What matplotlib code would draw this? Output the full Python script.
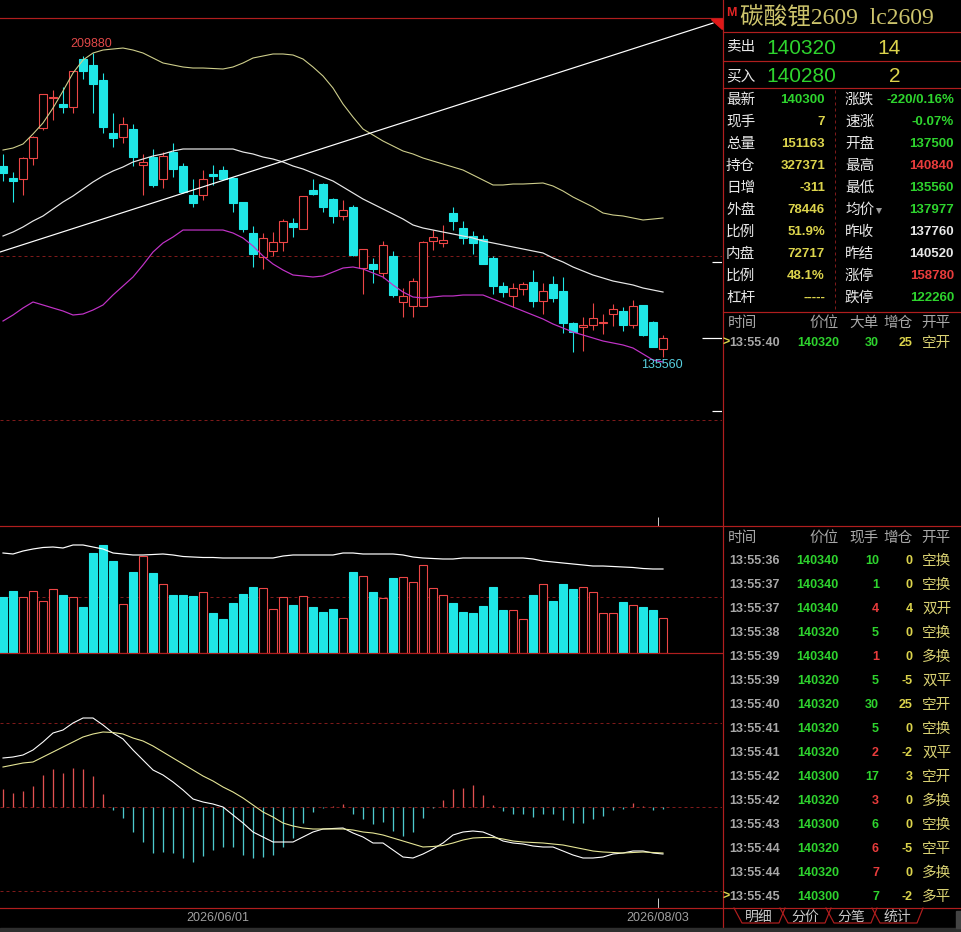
import numpy as np
import matplotlib
matplotlib.use('Agg')
import matplotlib.pyplot as plt
from matplotlib.patches import Polygon, Rectangle

plt.rcParams['font.family'] = ['Liberation Sans', 'Noto Sans CJK SC', 'DejaVu Sans']

# ---------------- data ----------------
opens = [182250, 179320, 179070, 184210, 191540, 198880, 197410, 196680, 208410, 206950,
         203280, 190320, 189340, 191300, 182500, 184450, 179070, 185670, 182250, 175160,
         175160, 180300, 181270, 179320, 173450, 165870, 160000, 161470, 163670, 168320,
         166850, 176380, 177850, 174180, 170030, 172230, 157310, 158290, 156090, 160250,
         149000, 148020, 148020, 163910, 163430, 170760, 167090, 165140, 164400, 159760,
         152910, 150470, 152180, 153890, 149240, 153400, 151690, 143860, 142890, 143380,
         143860, 146070, 146800, 143380, 148270, 144110, 137500]
closes = [180540, 178580, 184210, 189340, 199860, 199120, 196680, 205480, 205480, 202300,
          191790, 189100, 192520, 184450, 183230, 177610, 184700, 181520, 175890, 173200,
          179070, 179810, 179070, 173200, 166850, 160740, 164650, 163670, 168800, 167340,
          174920, 175410, 172230, 170030, 171490, 160490, 161960, 157070, 162940, 150710,
          150470, 154130, 163670, 164890, 164160, 168800, 164650, 163430, 158290, 152910,
          151440, 152420, 153400, 149240, 151690, 149980, 143860, 141660, 143380, 145090,
          144110, 147290, 143380, 148020, 140930, 138000, 140300]
highs = [185190, 180780, 184450, 189590, 199860, 200830, 201570, 205480, 209150, 209880,
         204990, 195210, 194230, 192520, 185190, 186410, 185670, 187880, 182990, 179070,
         181270, 182500, 182250, 179560, 173450, 167580, 165870, 166110, 169290, 169540,
         174920, 179070, 178100, 174430, 173940, 172720, 161960, 159760, 163910, 161470,
         152420, 154870, 163910, 166600, 167830, 172230, 168800, 166360, 165380, 160250,
         153890, 153650, 153890, 156820, 153650, 155360, 155110, 144110, 145330, 148760,
         146070, 148510, 147780, 149490, 148270, 144350, 140840]
lows = [178580, 173450, 175160, 182500, 191050, 193500, 195210, 195210, 203520, 195210,
        190320, 186900, 187880, 182250, 175160, 177120, 176870, 179560, 175650, 172230,
        173940, 177610, 178830, 171000, 166110, 157560, 157070, 160250, 161470, 164890,
        166850, 175160, 171000, 168320, 169050, 160250, 150960, 153650, 154870, 150220,
        145330, 145330, 148020, 161710, 162450, 166600, 163180, 160740, 158290, 150960,
        150220, 147780, 150710, 147780, 146070, 149000, 141420, 136770, 137020, 142150,
        141180, 143130, 141910, 142640, 140690, 138000, 135560]

boll_up = [186160, 186650, 187630, 190080, 192770, 196430, 200590, 204990, 208170, 209880,
           210610, 210860, 211100, 210610, 209880, 208660, 207440, 206950, 206460, 206210,
           206210, 206090, 205970, 206460, 207440, 208660, 209150, 209640, 209640, 209390,
           208410, 206460, 204260, 201320, 197410, 194230, 191300, 189830, 188360, 187140,
           185920, 185190, 184210, 183470, 182740, 182010, 181270, 180050, 178830, 177610,
           177610, 177850, 177850, 177970, 178100, 177360, 176140, 174670, 173450, 172230,
           170760, 170270, 170030, 169540, 169050, 169290, 169540]
boll_mid = [165140, 166110, 167340, 168800, 170030, 171740, 173450, 174920, 176630, 178340,
            179810, 181030, 182010, 183230, 183960, 184700, 185190, 185920, 186410, 186410,
            186410, 186410, 186410, 186410, 185670, 185190, 184450, 183960, 183230, 182250,
            181520, 180540, 179560, 178580, 177120, 175650, 174180, 172960, 171740, 170520,
            169290, 167830, 167090, 166600, 166110, 165630, 165140, 164650, 163910, 163430,
            162940, 162450, 161960, 161470, 160980, 159760, 158780, 157560, 156580, 155600,
            154870, 154130, 153650, 153160, 152420, 151930, 151440]
boll_low = [144350, 145820, 147530, 149000, 148270, 147530, 146800, 145820, 146070, 147040,
            148270, 150710, 152910, 155110, 158050, 161220, 163430, 164890, 166600, 166600,
            166600, 166600, 166600, 165870, 164650, 162690, 160250, 158290, 156820, 155600,
            155360, 155110, 155360, 156330, 157310, 157560, 157070, 156090, 155110, 153160,
            151440, 150220, 149980, 150220, 150470, 150470, 150710, 150710, 150710, 149730,
            148760, 147780, 146800, 145820, 144840, 143620, 142640, 141660, 140930, 140200,
            139460, 138980, 138490, 137750, 136290, 134820, 134330]

volumes = [241900, 267800, 241900, 267800, 224600, 276500, 250600, 241900, 198700, 432000,
           466600, 397400, 211700, 349900, 419000, 345600, 298100, 250600, 250600, 246200,
           263500, 172800, 146900, 216000, 254900, 285100, 280800, 190100, 241900, 207400,
           246200, 198700, 177100, 190100, 151200, 349900, 332600, 263500, 237600, 324000,
           328300, 306700, 380200, 280800, 250600, 216000, 177100, 172800, 203000, 285100,
           185800, 185800, 146900, 250600, 298100, 224600, 298100, 276500, 285100, 263500,
           172800, 172800, 220300, 207400, 198700, 185800, 151163]
vol_line = [432000, 427700, 440600, 449300, 455800, 457900, 453600, 466600, 466600, 457900,
            449300, 432000, 427700, 423400, 423400, 425500, 427700, 423400, 416900, 414700,
            412600, 412600, 410400, 410400, 410400, 410400, 410400, 410400, 419000, 423400,
            423400, 423400, 423400, 423400, 432000, 432000, 427700, 427700, 427700, 427700,
            423400, 414700, 410400, 408200, 406100, 406100, 410400, 410400, 410400, 410400,
            410400, 410400, 410400, 406100, 397400, 393100, 388800, 384500, 380200, 375800,
            375800, 373700, 371500, 369400, 365000, 362900, 362900]

dif = [4900, 5000, 5200, 5700, 6500, 7400, 7700, 8400, 8900, 8900,
       8200, 7400, 6800, 5700, 4700, 3700, 3200, 2500, 1700, 800,
       500, 300, 0, -800, -1600, -2500, -3000, -3500, -3500, -3500,
       -3000, -2500, -2200, -2150, -2100, -2600, -3000, -3600, -3600, -4300,
       -5000, -5100, -4700, -4200, -3600, -2800, -2500, -2400, -2500, -2900,
       -3400, -3600, -3700, -3900, -4000, -4000, -4400, -4800, -5100, -5100,
       -5000, -4700, -4600, -4400, -4400, -4600, -4700]
dea = [4000, 4200, 4400, 4500, 5000, 5500, 6000, 6500, 7000, 7300,
       7500, 7450, 7300, 6900, 6600, 6100, 5500, 4900, 4300, 3700,
       3100, 2600, 2000, 1500, 900, 200, -500, -1000, -1600, -1900,
       -2100, -2200, -2200, -2200, -2200, -2300, -2500, -2600, -2800, -3100,
       -3400, -3700, -4000, -3950, -3850, -3600, -3300, -3100, -3050, -3050,
       -3200, -3400, -3500, -3550, -3600, -3700, -3800, -4000, -4200, -4400,
       -4500, -4550, -4600, -4550, -4500, -4550, -4600]
macd_hist = [1800, 1400, 1600, 2100, 3200, 3800, 3400, 3900, 3800, 3100,
             1300, -300, -1100, -2500, -3500, -4600, -4500, -4600, -5100, -5500,
             -4900, -4300, -4000, -4000, -4800, -5100, -5000, -4800, -4000, -3100,
             -1600, -500, -100, 100, 300, -700, -1200, -1700, -1500, -2400,
             -2900, -2500, -1100, -100, 700, 1800, 1900, 2200, 1200, 200,
             -400, -700, -700, -1000, -700, -700, -1300, -1600, -1600, -1200,
             -900, -300, -200, 400, 100, -300, -200]

date_ticks = [21.5, 65.5]
date_labels = ['2026/06/01', '2026/08/03']
trend_x = [-0.3, 71.0]
trend_y = [161220, 217200]
main_grid = [160250, 120150]
vol_grid = [241920]
macd_grid = [8400, -8400]
last_price = 140300
limit_up = 158780
limit_down = 122260

title = '碳酸锂2609  lc2609'
book_labels = ['卖出', '买入']
book_prices = ['140320', '140280']
book_sizes = ['14', '2']
left_labels = ['最新', '现手', '总量', '持仓', '日增', '外盘', '比例', '内盘', '比例', '杠杆']
left_values = ['140300', '7', '151163', '327371', '-311', '78446', '51.9%', '72717', '48.1%', '-----']
left_kinds = ['g', 'y', 'y', 'y', 'y', 'y', 'y', 'y', 'y', 'y']
right_labels = ['涨跌', '速涨', '开盘', '最高', '最低', '均价', '昨收', '昨结', '涨停', '跌停']
right_values = ['-220/0.16%', '-0.07%', '137500', '140840', '135560', '137977', '137760', '140520', '158780', '122260']
right_kinds = ['g', 'g', 'g', 'r', 'g', 'g', 'w', 'w', 'r', 'g']
big_header = ['时间', '价位', '大单', '增仓', '开平']
big_row = ['13:55:40', '140320', '30', '25', '空开']
tick_header = ['时间', '价位', '现手', '增仓', '开平']
tick_times = ['13:55:36', '13:55:37', '13:55:37', '13:55:38', '13:55:39', '13:55:39', '13:55:40', '13:55:41',
              '13:55:41', '13:55:42', '13:55:42', '13:55:43', '13:55:44', '13:55:44', '13:55:45']
tick_prices = ['140340', '140340', '140340', '140320', '140340', '140320', '140320', '140320',
               '140320', '140300', '140320', '140300', '140320', '140320', '140300']
tick_sizes = ['10', '1', '4', '5', '1', '5', '30', '5', '2', '17', '3', '6', '6', '7', '7']
tick_size_kinds = ['g', 'g', 'r', 'g', 'r', 'g', 'g', 'g', 'r', 'g', 'r', 'g', 'r', 'r', 'g']
tick_oi = ['0', '0', '4', '0', '0', '-5', '25', '0', '-2', '3', '0', '0', '-5', '0', '-2']
tick_types = ['空换', '空换', '双开', '空换', '多换', '双平', '空开', '空换', '双平', '空开', '多换', '空换', '空平', '多换', '多平']
tabs = ['明细', '分价', '分笔', '统计']

# ---------------- style ----------------
W, H = 962, 932
LINE = '#b01e1e'
DASH = '#7e1a1a'
CYAN = '#1fe6e6'
UP = '#ec4646'
UPPER = '#cfcf8c'
MID = '#e8e8e8'
LOWER = '#c233c8'
HIST_UP = '#e05050'
HIST_DN = '#4cc8cc'
DEA_C = '#e6e696'
GREEN = '#2ed42e'
YELLOW = '#dcd44c'
REDT = '#e83c3c'
WHITET = '#e8e8e8'
GRAYT = '#a8a8a8'
KHAKI = '#d8d072'
kind_col = {'g': GREEN, 'y': YELLOW, 'r': REDT, 'w': WHITET}
PX = 0.72  # one pixel in points

fig = plt.figure(figsize=(W / 100, H / 100), dpi=100, facecolor='black')


def rect(x0, y0, x1, y1):
    return [x0 / W, 1 - y1 / H, (x1 - x0) / W, (y1 - y0) / H]


ax_k = fig.add_axes(rect(0, 18, 722, 526))
ax_v = fig.add_axes(rect(0, 526, 722, 653))
ax_m = fig.add_axes(rect(0, 653, 722, 908))
for a in (ax_k, ax_v, ax_m):
    a.set_facecolor('black')
    a.set_xlim(-0.3, 71.9)
    for s in a.spines.values():
        s.set_visible(False)
    a.set_xticks([])
    a.set_yticks([])

ax_k.set_ylim(94230, 218440)
ax_v.set_ylim(0, 548640)
ax_m.set_ylim(-10100, 15400)

o = np.array(opens, float)
c = np.array(closes, float)
h = np.array(highs, float)
l = np.array(lows, float)
idx = np.arange(len(o))
up = c >= o
cols = np.where(up, UP, CYAN)

# candles
ax_k.vlines(idx, l, h, colors=cols, lw=PX * 1.1, zorder=2)
bb = np.minimum(o, c)
bh = np.abs(c - o)
ax_k.bar(idx[up], bh[up], bottom=bb[up], width=0.72, facecolor='black', edgecolor=UP,
         lw=PX * 1.1, zorder=3)
ax_k.bar(idx[~up], bh[~up], bottom=bb[~up], width=0.72, facecolor=CYAN, edgecolor=CYAN,
         lw=PX * 1.1, zorder=3)

ax_k.plot(idx, boll_up, color=UPPER, lw=PX * 1.1, zorder=4)
ax_k.plot(idx, boll_mid, color=MID, lw=PX * 1.2, zorder=4)
ax_k.plot(idx, boll_low, color=LOWER, lw=PX * 1.2, zorder=4)
ax_k.plot(trend_x, trend_y, color='white', lw=PX * 1.2, zorder=4)
for g in main_grid:
    ax_k.axhline(g, color=DASH, lw=PX, ls=(0, (3, 3)), zorder=1)

# right-edge price marks
ax_k.hlines([limit_up, limit_down], 70.9, 71.9, colors='white', lw=PX * 1.2, zorder=5)
ax_k.hlines([last_price], 69.95, 71.9, colors='white', lw=PX * 1.2, zorder=5)

imax = int(np.argmax(h))
imin = int(np.argmin(l))
ax_k.annotate(f'{int(h[imax])}', (imax, h[imax]), xytext=(-1, 9 * PX), textcoords='offset points',
              ha='center', va='center', color='#e04848', fontsize=9, zorder=6)
ax_k.annotate(f'{int(l[imin])}', (imin, l[imin]), xytext=(-1, -8 * PX), textcoords='offset points',
              ha='center', va='center', color='#58d0e0', fontsize=9, zorder=6)
ax_k.vlines(date_ticks[1], 0, 9 / 508, transform=ax_k.get_xaxis_transform(), colors='#c8c8c8', lw=PX)

# volume
vol = np.array(volumes, float)
ax_v.bar(idx[up], vol[up], width=0.72, facecolor='black', edgecolor=UP, lw=PX * 1.1, zorder=3)
ax_v.bar(idx[~up], vol[~up], width=0.72, facecolor=CYAN, edgecolor=CYAN, lw=PX * 1.1, zorder=3)
ax_v.plot(idx, vol_line, color='white', lw=PX * 1.2, zorder=4)
for g in vol_grid:
    ax_v.axhline(g, color=DASH, lw=PX, ls=(0, (3, 3)), zorder=1)

# MACD
hist = np.array(macd_hist, float)
ax_m.vlines(idx, 0, hist, colors=np.where(hist >= 0, HIST_UP, HIST_DN), lw=PX * 1.3, zorder=3)
ax_m.plot(idx, dif, color='white', lw=PX * 1.1, zorder=4)
ax_m.plot(idx, dea, color=DEA_C, lw=PX * 1.1, zorder=4)
for g in macd_grid + [0]:
    ax_m.axhline(g, color=DASH, lw=PX, ls=(0, (3, 3)), zorder=1)
ax_m.vlines(date_ticks[1], 0, 10 / 255, transform=ax_m.get_xaxis_transform(), colors='#c8c8c8', lw=PX)
for xt, lab in zip(date_ticks, date_labels):
    ax_m.text(xt, -10 / 255, lab, transform=ax_m.get_xaxis_transform(), ha='center', va='center',
              color='#a0a0a0', fontsize=9, clip_on=False)

# ---------------- overlay: frame lines and quote panel ----------------
ov = fig.add_axes([0, 0, 1, 1])
ov.set_xlim(0, W)
ov.set_ylim(H, 0)
ov.axis('off')
ov.patch.set_alpha(0)

lw1 = PX * 1.2
ov.plot([0, 722], [18, 18], color=LINE, lw=lw1)
ov.plot([723, 723], [0, H], color=LINE, lw=lw1)
ov.plot([0, W], [526, 526], color=LINE, lw=lw1)
ov.plot([0, 722], [653, 653], color=LINE, lw=lw1)
ov.plot([0, W], [908, 908], color=LINE, lw=lw1)
for yy in (32, 61, 88, 312):
    ov.plot([723, W], [yy, yy], color=LINE, lw=lw1)
ov.plot([835, 835], [90, 310], color=DASH, lw=PX, ls=(0, (3, 3)))
ov.add_patch(Polygon([(711, 18.5), (722.5, 18.5), (722.5, 29)], closed=True, color='#e01818', zorder=6))
ov.add_patch(Rectangle((0, 928), W, 4, color='#2e2e2e', zorder=6))
ov.add_patch(Rectangle((956, 911), 6, 17, color='#444444', zorder=6))

# title
ov.text(726, 13, 'M', color='#e02424', fontsize=9, fontweight='bold', va='center', ha='left')
ov.text(740, 17, title, color='#cdc46c', fontsize=17, va='center', ha='left',
        family=['Liberation Serif', 'Noto Sans CJK SC'])

# order book
for k in range(2):
    yy = 47 + 29 * k
    ov.text(726, yy, book_labels[k], color=WHITET, fontsize=10.5, va='center', ha='left')
    ov.text(836, yy + 1, book_prices[k], color=GREEN, fontsize=15, va='center', ha='right')
    ov.text(901, yy + 1, book_sizes[k], color=YELLOW, fontsize=15, va='center', ha='right')

# stats grid
for k in range(10):
    yy = 100 + 22 * k
    ov.text(726, yy, left_labels[k], color=WHITET, fontsize=10.5, va='center', ha='left')
    ov.text(825, yy, left_values[k], color=kind_col[left_kinds[k]], fontsize=9.5,
            fontweight='bold', va='center', ha='right')
    ov.text(845, yy, right_labels[k], color=WHITET, fontsize=10.5, va='center', ha='left')
    ov.text(954, yy, right_values[k], color=kind_col[right_kinds[k]], fontsize=9.5,
            fontweight='bold', va='center', ha='right')
ov.plot([879], [211], marker='v', color='#9a9a9a', ms=5, mew=0)


def header(yy, names):
    ov.text(728, yy, names[0], color=GRAYT, fontsize=10.5, va='center', ha='left')
    ov.text(839, yy, names[1], color=GRAYT, fontsize=10.5, va='center', ha='right')
    ov.text(864, yy, names[2], color=GRAYT, fontsize=10.5, va='center', ha='center')
    ov.text(898, yy, names[3], color=GRAYT, fontsize=10.5, va='center', ha='center')
    ov.text(936, yy, names[4], color=GRAYT, fontsize=10.5, va='center', ha='center')


def trade_row(yy, t, p, s, s_col, oi, typ, mark=False):
    if mark:
        ov.text(723, yy, '>', color=YELLOW, fontsize=9, fontweight='bold', va='center', ha='left')
    ov.text(729, yy, t, color=GRAYT, fontsize=9, fontweight='bold', va='center', ha='left')
    ov.text(839, yy, p, color=GREEN, fontsize=9, fontweight='bold', va='center', ha='right')
    ov.text(879, yy, s, color=s_col, fontsize=9, fontweight='bold', va='center', ha='right')
    ov.text(913, yy, oi, color=YELLOW, fontsize=9, fontweight='bold', va='center', ha='right')
    ov.text(922, yy, typ, color=KHAKI, fontsize=10.5, va='center', ha='left')


header(323, big_header)
trade_row(343, big_row[0], big_row[1], big_row[2], GREEN, big_row[3], big_row[4], mark=True)

header(538, tick_header)
n = len(tick_times)
for k in range(n):
    trade_row(561 + 24 * k, tick_times[k], tick_prices[k], tick_sizes[k],
              kind_col[tick_size_kinds[k]], tick_oi[k], tick_types[k], mark=(k == n - 1))

# tabs
for k, name in enumerate(tabs):
    x0 = 734 + 46 * k
    ov.plot([x0, x0 + 8, x0 + 45, x0 + 51], [908, 923, 923, 908], color=LINE, lw=lw1)
    ov.text(x0 + 25, 917, name, color='#c8c8c8', fontsize=10, va='center', ha='center')

fig.savefig('out.png', dpi=100, facecolor='black')
